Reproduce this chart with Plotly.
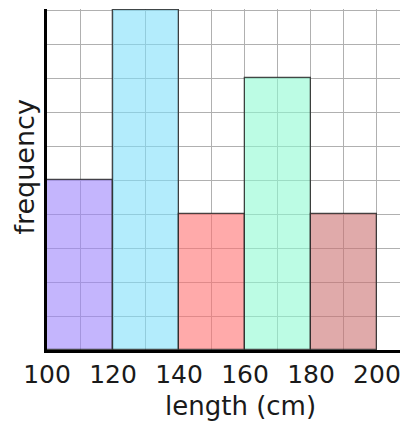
import plotly.graph_objects as go

bin_starts = [100, 120, 140, 160, 180]
bin_width = 20
frequencies = [5, 10, 4, 8, 4]
fill_colors = ["rgba(157,132,252,0.6)", "rgba(128,223,250,0.6)", "rgba(255,113,113,0.6)",
               "rgba(143,250,210,0.6)", "rgba(203,113,113,0.6)"]
tick_values = [100, 120, 140, 160, 180, 200]
x_title = "length (cm)"
y_title = "frequency"

fig = go.Figure()
fig.add_trace(go.Bar(
    x=[s + bin_width / 2 for s in bin_starts],
    y=frequencies,
    width=[bin_width] * len(bin_starts),
    marker=dict(color=fill_colors, line=dict(color="rgba(40,40,40,0.85)", width=1.3)),
    showlegend=False,
))

fig.update_layout(
    width=400, height=416,
    margin=dict(l=39, r=0, t=1, b=74),
    plot_bgcolor="white", paper_bgcolor="white",
    font=dict(family="DejaVu Sans", color="#1a1a1a"),
    bargap=0,
    xaxis=dict(
        range=[100, 209.4], tickvals=tick_values, ticks="",
        showgrid=True, gridcolor="#b0b0b0", gridwidth=1,
        minor=dict(dtick=10, tick0=100, showgrid=True, gridcolor="#b0b0b0", gridwidth=1),
        showline=True, linecolor="black", linewidth=3,
        tickfont=dict(size=25), zeroline=False,
    ),
    yaxis=dict(
        range=[0, 10.03], dtick=1, showticklabels=False, ticks="",
        showgrid=True, gridcolor="#b0b0b0", gridwidth=1,
        showline=True, linecolor="black", linewidth=3, zeroline=False,
    ),
    annotations=[
        dict(text=x_title, xref="x", yref="paper", x=158.5, y=0, xanchor="center",
             yanchor="middle", yshift=-56, showarrow=False, font=dict(size=26)),
        dict(text=y_title, xref="paper", yref="paper", x=0, y=0.535, xanchor="center",
             yanchor="middle", xshift=-22, textangle=-90, showarrow=False, font=dict(size=27)),
    ],
)

fig.write_html("out.html")
